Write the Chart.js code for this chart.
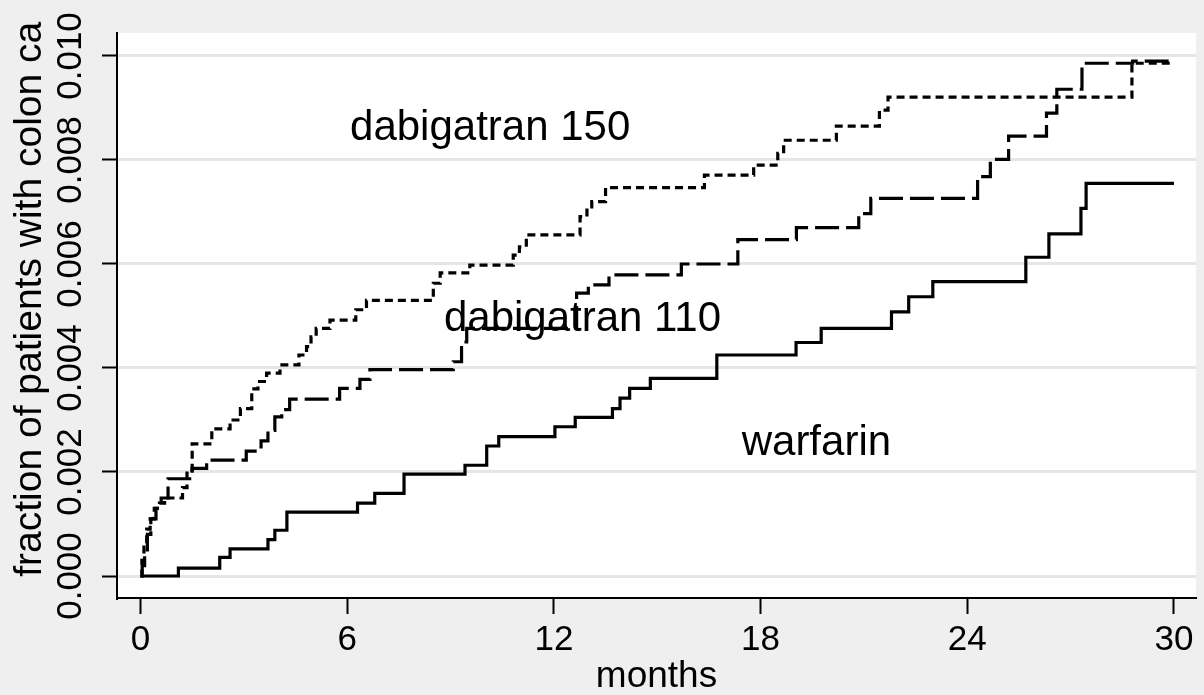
<!DOCTYPE html>
<html>
<head>
<meta charset="utf-8">
<script src="https://cdn.jsdelivr.net/npm/chart.js@4.4.1/dist/chart.umd.min.js"></script>
<style>
  html, body { margin: 0; padding: 0; background: #efefef; }
  canvas { display: block; }
</style>
</head>
<body>
<canvas id="myChart" width="1204" height="695"></canvas>
<script>
// step points: month where the curve jumps, and the new cumulative fraction
const warfarinMonths = [0, 1.1, 2.3, 2.6, 3.7, 3.9, 4.25, 6.3, 6.8, 7.65,
  9.42, 10.05, 10.4, 12.03, 12.62, 13.7, 13.92, 14.2, 14.8, 16.73,
  19.03, 19.76, 21.8, 22.3, 23.0, 25.7, 26.37, 27.3, 27.45, 30];
const warfarinFrac = [0, 0.00015, 0.00036, 0.00052, 0.0007, 0.00088, 0.00123, 0.0014, 0.00159, 0.00196,
  0.00213, 0.0025, 0.00268, 0.00287, 0.00305, 0.00322, 0.00342, 0.00361, 0.0038, 0.00425,
  0.00449, 0.00476, 0.00508, 0.00537, 0.00566, 0.00613, 0.00658, 0.00707, 0.00755, 0.00755];

const dabi110Months = [0, 0.05, 0.12, 0.2, 0.3, 0.45, 0.6, 0.8, 1.5, 1.92,
  3.07, 3.5, 3.7, 3.9, 4.1, 4.33, 5.78, 6.37, 6.66, 9.08,
  9.32, 9.47, 12.66, 13.0, 13.6, 15.7, 17.34, 19.04, 20.85, 21.2,
  24.3, 24.67, 25.2, 26.3, 26.6, 27.33, 28.8, 30];
const dabi110Frac = [0, 0.0002, 0.0005, 0.0008, 0.0011, 0.0013, 0.0015, 0.00187, 0.00207, 0.00223,
  0.0024, 0.0026, 0.0028, 0.00306, 0.0032, 0.0034, 0.00361, 0.00378, 0.00397, 0.00412,
  0.0045, 0.00476, 0.00544, 0.0056, 0.00579, 0.006, 0.00647, 0.0067, 0.00697, 0.00726,
  0.00768, 0.00801, 0.00846, 0.0089, 0.00936, 0.00986, 0.0099, 0.0099];

const dabi150Months = [0, 0.04, 0.1, 0.18, 0.28, 0.4, 0.55, 0.7, 1.22, 1.35,
  1.5, 2.07, 2.6, 2.9, 3.23, 3.41, 3.66, 4.05, 4.6, 4.82,
  4.95, 5.1, 5.5, 6.25, 6.56, 8.5, 8.7, 9.56, 10.82, 11.0,
  11.2, 12.76, 12.96, 13.1, 13.5, 16.37, 17.8, 18.5, 18.67, 20.2,
  21.45, 21.7, 28.78, 30];
const dabi150Frac = [0, 0.0003, 0.0006, 0.0009, 0.0011, 0.0013, 0.0014, 0.0015, 0.0017, 0.00204,
  0.00254, 0.00283, 0.003, 0.00322, 0.0036, 0.00374, 0.0039, 0.00406, 0.00425, 0.00441,
  0.0046, 0.00476, 0.00492, 0.00512, 0.0053, 0.00563, 0.00583, 0.00598, 0.00617, 0.00633,
  0.00656, 0.00691, 0.0071, 0.0072, 0.00747, 0.00771, 0.0079, 0.00813, 0.00838, 0.00865,
  0.00896, 0.00921, 0.00986, 0.00986];

const xTickValues = [0, 6, 12, 18, 24, 30];
const yTickValues = [0, 0.002, 0.004, 0.006, 0.008, 0.010];

// curve names written inside the plot, anchored in data units
const curveNames = ['dabigatran 150', 'dabigatran 110', 'warfarin'];
const curveNameMonth = [10.15, 12.83, 19.62];
const curveNameFrac = [0.0086, 0.00494, 0.00254];

const FONT = '"Liberation Sans", Arial, sans-serif';

function toPoints(months, fracs) {
    return months.map((m, i) => ({ x: m, y: fracs[i] }));
}

// white plot region on the grey page
const plotBackground = {
    id: 'plotBackground',
    beforeDraw(chart) {
        const { ctx, chartArea: a } = chart;
        ctx.save();
        ctx.fillStyle = '#ffffff';
        ctx.fillRect(a.left, a.top, a.right - a.left, a.bottom - a.top);
        ctx.restore();
    }
};

const curveText = {
    id: 'curveText',
    afterDatasetsDraw(chart) {
        const { ctx, scales } = chart;
        ctx.save();
        ctx.font = '42px ' + FONT;
        ctx.fillStyle = '#000';
        ctx.textAlign = 'center';
        ctx.textBaseline = 'middle';
        curveNames.forEach((name, i) => {
            ctx.fillText(name, scales.x.getPixelForValue(curveNameMonth[i]), scales.y.getPixelForValue(curveNameFrac[i]));
        });
        ctx.restore();
    }
};

function lineSet(label, months, fracs, dash) {
    return {
        label: label,
        data: toPoints(months, fracs),
        borderColor: '#000',
        borderWidth: 3.2,
        borderDash: dash,
        borderCapStyle: 'butt',
        stepped: 'before',
        pointRadius: 0,
        fill: false
    };
}

new Chart(document.getElementById('myChart'), {
    type: 'line',
    data: {
        datasets: [
            lineSet('dabigatran 150', dabi150Months, dabi150Frac, [8, 5]),
            lineSet('dabigatran 110', dabi110Months, dabi110Frac, [24, 7]),
            lineSet('warfarin', warfarinMonths, warfarinFrac, [])
        ]
    },
    options: {
        responsive: false,
        animation: false,
        devicePixelRatio: 1,
        layout: { padding: { left: 0, top: 33, right: 8, bottom: 0 } },
        plugins: { legend: { display: false }, tooltip: { enabled: false } },
        scales: {
            x: {
                type: 'linear',
                min: -0.682,
                max: 30.64,
                afterBuildTicks: s => { s.ticks = xTickValues.map(v => ({ value: v })); },
                afterFit: s => { s.height = 97; },
                border: { display: true, color: '#000', width: 2 },
                grid: { color: 'rgba(0,0,0,0)', tickColor: '#000', tickWidth: 2, tickLength: 16 },
                ticks: {
                    autoSkip: false,
                    maxRotation: 0,
                    padding: 5,
                    color: '#000',
                    font: { family: FONT, size: 35 },
                    callback: v => String(v)
                },
                title: {
                    display: true,
                    text: 'months',
                    color: '#000',
                    font: { family: FONT, size: 37, lineHeight: 1 },
                    padding: { top: 0, bottom: 0 }
                }
            },
            y: {
                min: -0.000423,
                max: 0.010442,
                afterBuildTicks: s => { s.ticks = yTickValues.map(v => ({ value: v })); },
                afterFit: s => { s.width = 117; s.paddingTop = 0; s.paddingBottom = 0; },
                border: { display: true, color: '#000', width: 2 },
                grid: { color: '#e6e6e6', lineWidth: 3, tickColor: '#000', tickWidth: 2, tickLength: 15 },
                ticks: {
                    autoSkip: false,
                    minRotation: 90,
                    maxRotation: 90,
                    crossAlign: 'center',
                    padding: -13,
                    color: '#000',
                    font: { family: FONT, size: 35 },
                    callback: v => v.toFixed(3)
                },
                title: {
                    display: true,
                    // leading spaces nudge the rotated title up, as in the original
                    text: '   fraction of patients with colon ca',
                    color: '#000',
                    font: { family: FONT, size: 39, lineHeight: 1 },
                    padding: { top: 11, bottom: 0 }
                }
            }
        }
    },
    plugins: [plotBackground, curveText]
});
</script>
</body>
</html>
